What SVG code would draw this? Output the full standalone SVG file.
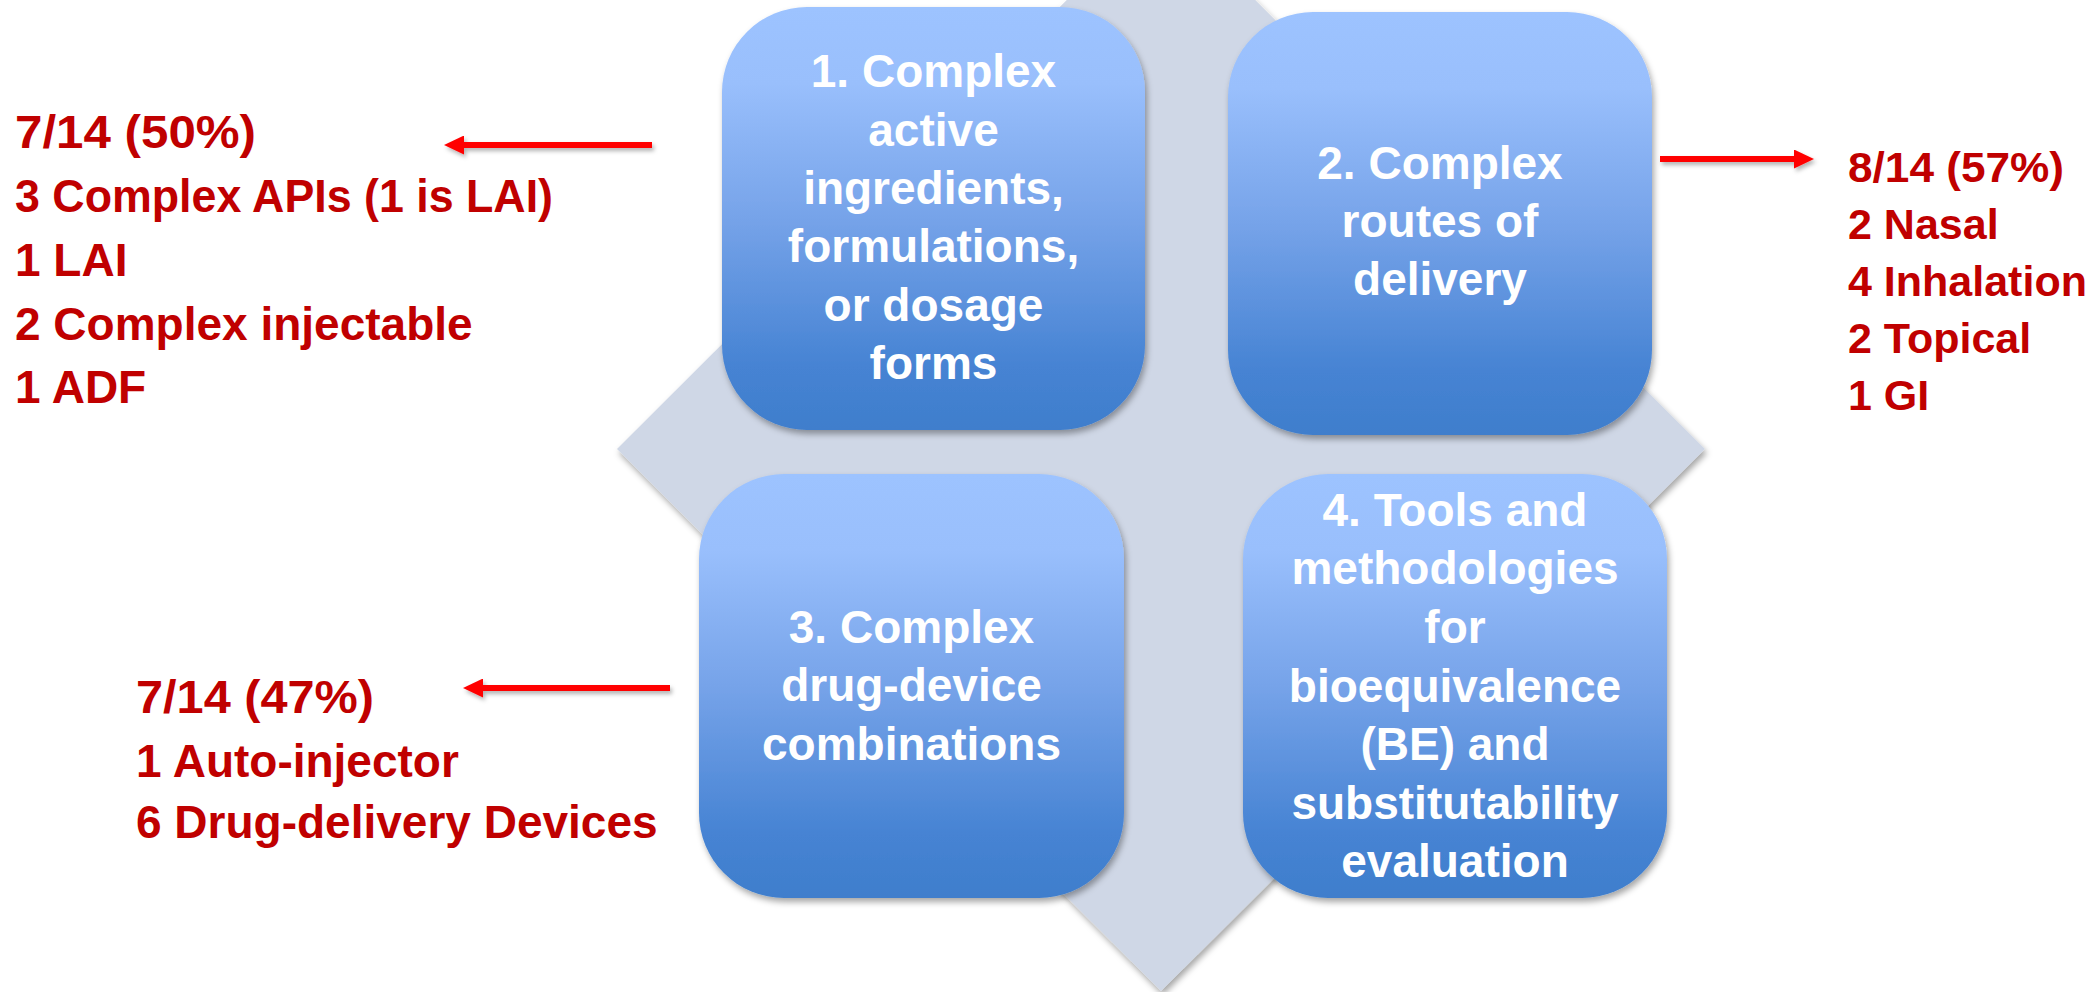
<svg xmlns="http://www.w3.org/2000/svg" width="2097" height="992" viewBox="0 0 2097 992">
  <defs>
    <linearGradient id="boxGrad" x1="0" y1="0" x2="0" y2="1">
      <stop offset="0" stop-color="#9DC3FF"/>
      <stop offset="0.18" stop-color="#99BFFC"/>
      <stop offset="0.5" stop-color="#76A3E9"/>
      <stop offset="0.85" stop-color="#4683D3"/>
      <stop offset="1" stop-color="#3F7ECC"/>
    </linearGradient>
    <filter id="shadow" x="-10%" y="-10%" width="120%" height="120%">
      <feDropShadow dx="2" dy="4" stdDeviation="3" flood-color="#000" flood-opacity="0.35"/>
    </filter>
    <filter id="arrowShadow" x="-10%" y="-100%" width="120%" height="300%">
      <feDropShadow dx="2" dy="3" stdDeviation="2" flood-color="#000" flood-opacity="0.3"/>
    </filter>
    <marker id="head" markerUnits="userSpaceOnUse" viewBox="0 0 20 19" markerWidth="20" markerHeight="19" refX="0" refY="9.5" orient="auto">
      <path d="M0,0 L20,9.5 L0,19 z" fill="#FF0000"/>
    </marker>
    <style>
      .box { fill: url(#boxGrad); filter: url(#shadow); }
      .boxText { font-family: "Liberation Sans", Arial, sans-serif; font-weight: bold; font-size: 46px; fill: #FFFFFF; text-anchor: middle; }
      .note { font-family: "Liberation Sans", Arial, sans-serif; font-weight: bold; font-size: 46px; fill: #C00000; }
      .noteR { font-family: "Liberation Sans", Arial, sans-serif; font-weight: bold; font-size: 43px; fill: #C00000; }
      .arrow { stroke: #FF0000; stroke-width: 6; fill: none; marker-end: url(#head); }
    </style>
  </defs>

  <rect width="2097" height="992" fill="#FFFFFF"/>

  <g id="background-diamond">
    <polygon points="1161,-94 1705,449 1161,991 617,449" fill="#CFD7E6" filter="url(#shadow)"/>
  </g>

  <g id="node1">
    <rect class="box" x="722" y="7" width="423" height="423" rx="85" ry="85"/>
    <text class="boxText" x="933.5" y="87">1. Complex</text>
    <text class="boxText" x="933.5" y="145.5">active</text>
    <text class="boxText" x="933.5" y="203.5">ingredients,</text>
    <text class="boxText" x="933.5" y="262">formulations,</text>
    <text class="boxText" x="933.5" y="320.5">or dosage</text>
    <text class="boxText" x="933.5" y="379">forms</text>
  </g>

  <g id="node2">
    <rect class="box" x="1228" y="12" width="424" height="423" rx="85" ry="85"/>
    <text class="boxText" x="1440" y="179">2. Complex</text>
    <text class="boxText" x="1440" y="237">routes of</text>
    <text class="boxText" x="1440" y="295">delivery</text>
  </g>

  <g id="node3">
    <rect class="box" x="699" y="474" width="425" height="424" rx="85" ry="85"/>
    <text class="boxText" x="911.5" y="643">3. Complex</text>
    <text class="boxText" x="911.5" y="701">drug-device</text>
    <text class="boxText" x="911.5" y="760">combinations</text>
  </g>

  <g id="node4">
    <rect class="box" x="1243" y="474" width="424" height="424" rx="85" ry="85"/>
    <text class="boxText" x="1455" y="526">4. Tools and</text>
    <text class="boxText" x="1455" y="584">methodologies</text>
    <text class="boxText" x="1455" y="643">for</text>
    <text class="boxText" x="1455" y="701.5">bioequivalence</text>
    <text class="boxText" x="1455" y="760">(BE) and</text>
    <text class="boxText" x="1455" y="818.5">substitutability</text>
    <text class="boxText" x="1455" y="877">evaluation</text>
  </g>

  <g id="note1">
    <text class="note" x="15" y="148" textLength="241" lengthAdjust="spacingAndGlyphs">7/14 (50%)</text>
    <text class="note" x="15" y="212" textLength="538" lengthAdjust="spacingAndGlyphs">3 Complex APIs (1 is LAI)</text>
    <text class="note" x="15" y="276">1 LAI</text>
    <text class="note" x="15" y="340">2 Complex injectable</text>
    <text class="note" x="15" y="403">1 ADF</text>
  </g>

  <g id="note2">
    <text class="noteR" x="1848" y="182" textLength="216" lengthAdjust="spacingAndGlyphs">8/14 (57%)</text>
    <text class="noteR" x="1848" y="239">2 Nasal</text>
    <text class="noteR" x="1848" y="296">4 Inhalation</text>
    <text class="noteR" x="1848" y="353">2 Topical</text>
    <text class="noteR" x="1848" y="410">1 GI</text>
  </g>

  <g id="note3">
    <text class="note" x="136" y="713" textLength="238" lengthAdjust="spacingAndGlyphs">7/14 (47%)</text>
    <text class="note" x="136" y="777">1 Auto-injector</text>
    <text class="note" x="136" y="838">6 Drug-delivery Devices</text>
  </g>

  <g id="connectors" filter="url(#arrowShadow)">
    <line class="arrow" x1="652" y1="145" x2="464" y2="145"/>
    <line class="arrow" x1="1660" y1="159" x2="1794" y2="159"/>
    <line class="arrow" x1="670" y1="688" x2="483" y2="688"/>
  </g>
</svg>
